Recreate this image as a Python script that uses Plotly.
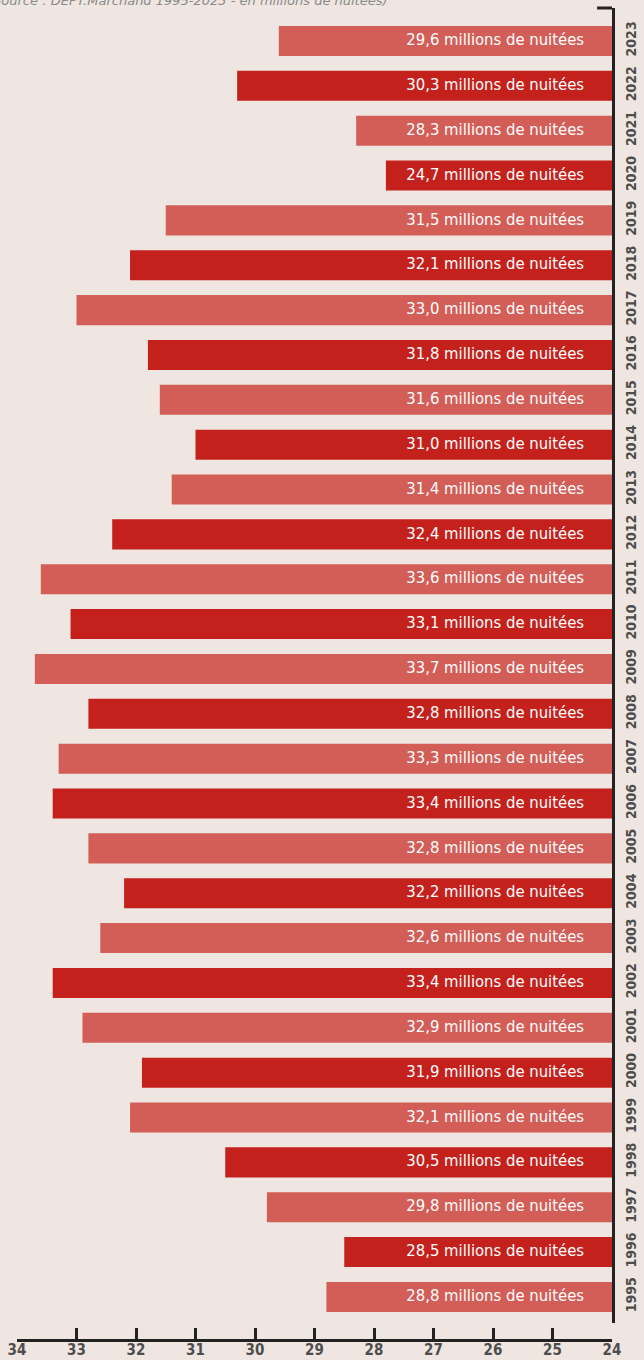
import plotly.graph_objects as go

years = [str(y) for y in range(1995, 2024)]
nights = [28.8, 28.5, 29.8, 30.5, 32.1, 31.9, 32.9, 33.4, 32.6, 32.2,
          32.8, 33.4, 33.3, 32.8, 33.7, 33.1, 33.6, 32.4, 31.4, 31.0,
          31.6, 31.8, 33.0, 32.1, 31.5, 24.7, 28.3, 30.3, 29.6]
# bar lengths as drawn in the picture (2020 bar is drawn longer than its label)
bar_values = [28.8, 28.5, 29.8, 30.5, 32.1, 31.9, 32.9, 33.4, 32.6, 32.2,
              32.8, 33.4, 33.3, 32.8, 33.7, 33.1, 33.6, 32.4, 31.4, 31.0,
              31.6, 31.8, 33.0, 32.1, 31.5, 27.8, 28.3, 30.3, 29.6]
baseline = 24
label_anchor = 24.47  # labels sit a little inside the bar's base end
x_ticks = list(range(24, 35))

light = "#d35e58"
dark = "#c4211d"
bg = "#efe6e1"
axis_col = "#222222"
label_grey = "#4d4d4d"
cond_font = "DejaVu Sans Condensed, Roboto, sans-serif"

colors = [light if i % 2 == 0 else dark for i in range(len(years))]
labels = [f"{v:.1f}".replace(".", ",") + " millions de nuitées" for v in nights]

fig = go.Figure()
fig.add_trace(go.Bar(
    y=years,
    x=[v - baseline for v in bar_values],
    base=baseline,
    orientation="h",
    marker=dict(color=colors, line=dict(width=0)),
    width=0.67,
    hoverinfo="skip",
))
fig.add_trace(go.Scatter(
    y=years,
    x=[label_anchor] * len(years),
    mode="text",
    text=labels,
    textposition="middle left",
    textfont=dict(family=cond_font, size=16.5, color="white"),
    hoverinfo="skip",
    cliponaxis=False,
))

fig.add_annotation(x=-0.052, y=1.006, xref="paper", yref="paper",
                   xanchor="left", yanchor="middle", showarrow=False,
                   text="<i>(Source : DEPT.Marchand 1995-2023 - en millions de nuitées)</i>",
                   font=dict(family="DejaVu Sans, sans-serif", size=13, color="#8a8a8a"))

fig.add_shape(type="line", xref="paper", yref="paper", x0=0.975, x1=1.0, y0=1, y1=1,
              line=dict(color=axis_col, width=3))

fig.update_layout(
    width=644, height=1360,
    paper_bgcolor=bg, plot_bgcolor=bg,
    margin=dict(l=17, r=32, t=8, b=20, autoexpand=False),
    showlegend=False,
    xaxis=dict(range=[34, 24], tickvals=x_ticks, ticktext=[str(t) for t in x_ticks],
               ticks="inside", ticklen=11, tickwidth=3, tickcolor=axis_col,
               showline=True, linewidth=3, linecolor=axis_col, showgrid=False,
               zeroline=False, anchor="free", position=0, ticklabelstandoff=-5,
               tickfont=dict(family=cond_font, size=15, color=label_grey, weight="bold")),
    yaxis=dict(type="category", categoryorder="array", categoryarray=years,
               range=[-0.58, 28.735], domain=[0.0128, 1], side="right",
               showline=True, linewidth=3, linecolor=axis_col, showgrid=False,
               zeroline=False, ticks="", tickangle=-90, ticklabelstandoff=4,
               tickfont=dict(family=cond_font, size=14, color=label_grey, weight="bold")),
)

fig.write_html("out.html", config={"displayModeBar": False},
               post_script="document.body.style.margin='0';document.body.style.background='" + bg + "';")
